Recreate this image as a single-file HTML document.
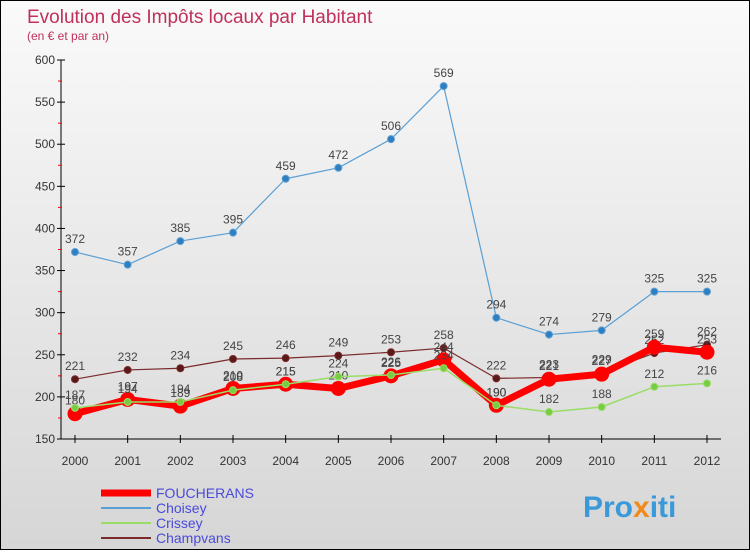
<!DOCTYPE html>
<html><head><meta charset="utf-8"><style>
html,body{margin:0;padding:0}
body{width:750px;height:550px;overflow:hidden;font-family:"Liberation Sans",sans-serif}
#wrap{position:relative;width:748px;height:548px;border:1px solid #000;background:linear-gradient(#fafafa,#d6d6d6)}
</style></head><body>
<div id="wrap">
<svg id="svg" width="748" height="548" xmlns="http://www.w3.org/2000/svg">
<text x="26" y="22" font-size="19" fill="#c0305a">Evolution des Impôts locaux par Habitant</text>
<text x="26" y="39" font-size="12" fill="#c0305a">(en € et par an)</text>
<g id="axes"></g><g id="series"></g><g id="legend"></g>
<text x="582" y="516" font-size="30" font-weight="bold" fill="#3a9ad9">Pro<tspan fill="#f08a1c">x</tspan>iti</text>
</svg></div>
<script>
const years=[2000,2001,2002,2003,2004,2005,2006,2007,2008,2009,2010,2011,2012];
const yTicks=[150,200,250,300,350,400,450,500,550,600];
const foucherans=[180,197,189,210,215,210,225,244,190,221,227,259,253];
const choisey=[372,357,385,395,459,472,506,569,294,274,279,325,325];
const crissey=[187,194,194,208,215,224,226,234,190,182,188,212,216];
const champvans=[221,232,234,245,246,249,253,258,222,223,229,252,262];
const NS="http://www.w3.org/2000/svg";
const xS=i=>74+i*(706-74)/12;
const yS=v=>438-(v-150)*(438-59)/450;
function mk(t,a,p){const e=document.createElementNS(NS,t);for(const k in a)e.setAttribute(k,a[k]);p.appendChild(e);return e;}
const ax=document.getElementById('axes');
mk('line',{x1:60,y1:59,x2:60,y2:438,stroke:'#000'},ax);
mk('line',{x1:60,y1:438,x2:720,y2:438,stroke:'#000'},ax);
yTicks.forEach(v=>{const y=yS(v);
 mk('line',{x1:56,y1:y,x2:64,y2:y,stroke:'#000'},ax);
 if(v<600)mk('line',{x1:57,y1:yS(v+25),x2:61,y2:yS(v+25),stroke:'red'},ax);
 const t=mk('text',{x:54,y:y+4,'font-size':12,fill:'#333','text-anchor':'end'},ax);t.textContent=v;
 
 });
years.forEach((yr,i)=>{const x=xS(i);
 mk('line',{x1:x,y1:434,x2:x,y2:442,stroke:'#000'},ax);
 const t=mk('text',{x:x,y:464,'font-size':12,fill:'#333','text-anchor':'middle'},ax);t.textContent=yr;
 
 });
const sg=document.getElementById('series');
function series(name,vals,color,w,r,dot,labels,ldy){
 const g=mk('g',{},sg);
 
 
 mk('polyline',{points:vals.map((v,i)=>xS(i)+','+yS(v)).join(' '),fill:'none',stroke:color,'stroke-width':w,'stroke-linejoin':'round'},g);
 vals.forEach((v,i)=>{const c=mk('circle',{cx:xS(i),cy:yS(v),r:r,fill:dot,stroke:color,'stroke-width':1},g);
  
  
  if(labels){const t=mk('text',{x:xS(i),y:yS(v)+ldy,'font-size':12,fill:'#444','text-anchor':'middle'},g);t.textContent=v;
  
  }});
}
series('choisey',choisey,'#5a9fd4',1.2,3.5,'#2f7fc0',true,-9);
series('champvans',champvans,'#7a2a2a',1.2,3.5,'#5a1818',true,-9);
series('foucherans',foucherans,'#ff0000',7,7,'#ff0000',true,-9);
series('crissey',crissey,'#99dd66',1.5,3.5,'#77cc44',true,-9);
const lg=document.getElementById('legend');
[['FOUCHERANS','#ff0000',7],['Choisey','#5a9fd4',2],['Crissey','#99dd66',2],['Champvans','#7a2a2a',2]].forEach((d,i)=>{
 const y=492+i*15;const g=mk('g',{},lg);
 
 
 mk('line',{x1:100,y1:y,x2:150,y2:y,stroke:d[1],'stroke-width':d[2]},g);
 const t=mk('text',{x:155,y:y+5,'font-size':14,fill:'#4a4adc'},g);t.textContent=d[0];});
</script>
</body></html>
